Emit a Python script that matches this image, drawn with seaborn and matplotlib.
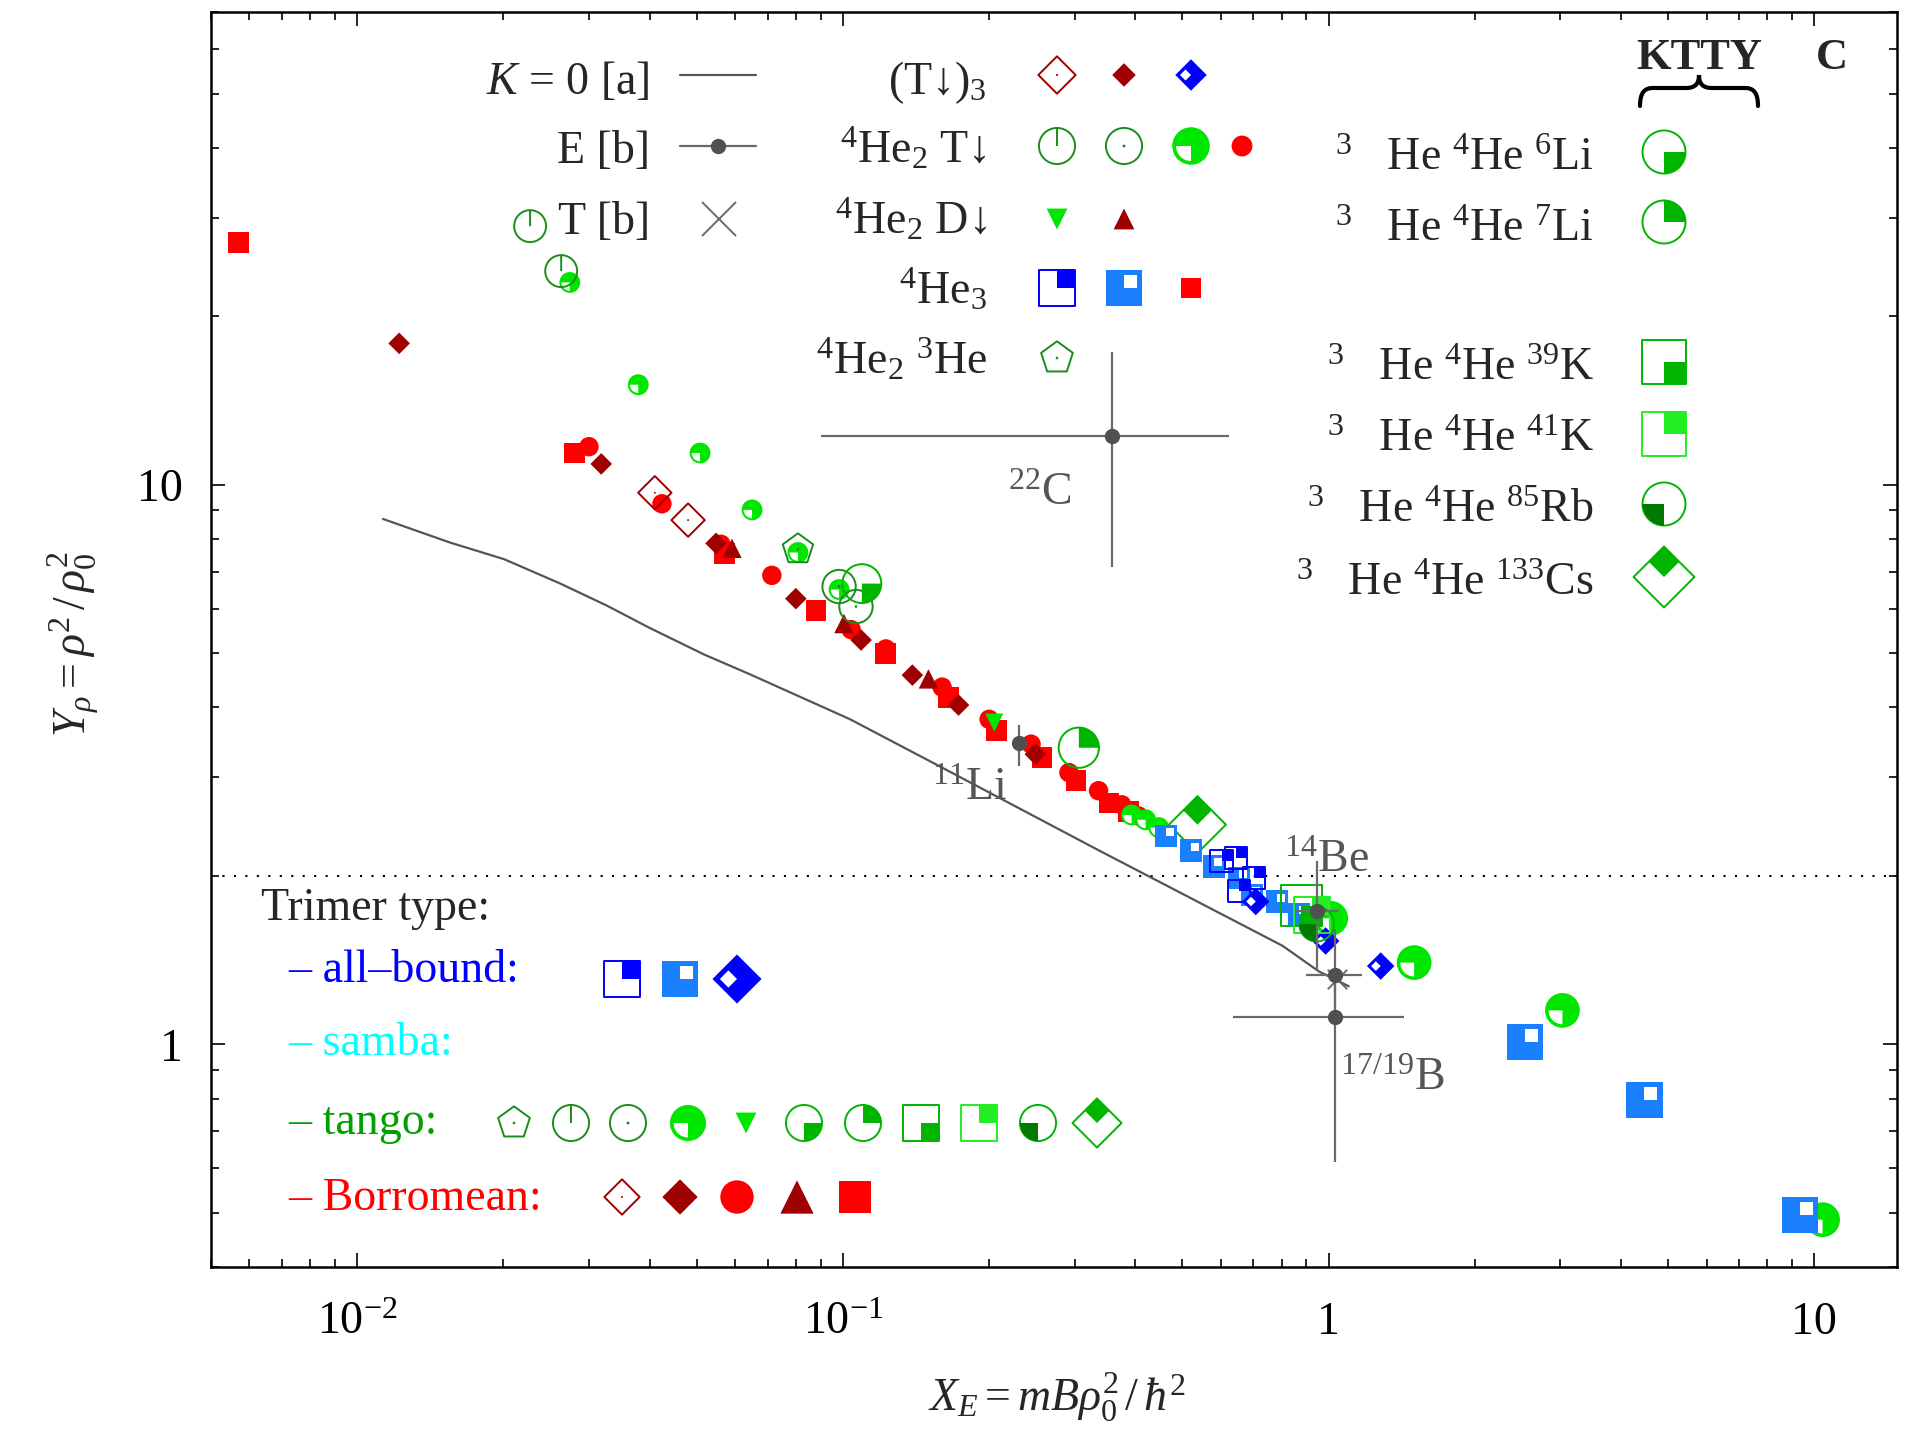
import numpy as np
import matplotlib
matplotlib.use("Agg")
import matplotlib.pyplot as plt
import seaborn as sns
from matplotlib.path import Path
from matplotlib.patches import PathPatch
from matplotlib.ticker import NullFormatter

sns.set_style("ticks")
plt.rcParams["font.family"] = ["Liberation Serif", "DejaVu Serif"]
plt.rcParams["mathtext.fontset"] = "custom"
plt.rcParams["mathtext.rm"] = "Liberation Serif"
plt.rcParams["mathtext.it"] = "Liberation Serif:italic"
plt.rcParams["mathtext.bf"] = "Liberation Serif:bold"
plt.rcParams["mathtext.fallback"] = "stix"


# DATA

# K = 0 hyperspherical curve [a]
k0_x = [0.0113, 0.0155, 0.0201, 0.0262, 0.0327, 0.040, 0.0519, 0.0642, 0.1035, 0.156,
        0.337, 0.804, 0.955, 1.10]
k0_y = [8.69, 7.89, 7.36, 6.66, 6.08, 5.55, 4.97, 4.59, 3.81, 3.16,
        2.22, 1.50, 1.35, 1.27]

# (T-down)3
trit_open_x = [0.0410, 0.0480]
trit_open_y = [9.68, 8.65]
trit_fill_x = [0.0122, 0.0318, 0.0548, 0.080, 0.109, 0.139, 0.173, 0.249]
trit_fill_y = [17.9, 10.9, 7.86, 6.26, 5.28, 4.57, 4.04, 3.30]
trit_bound_x = [0.708, 0.986, 1.28]
trit_bound_y = [1.80, 1.53, 1.38]

# 4He2 T-down
he2t_line_x = [0.0227, 0.0263]
he2t_line_y = [29.0, 24.1]
he2t_dot_x = [0.0982, 0.1064]
he2t_dot_y = [6.58, 6.06]
he2t_tango_x = [0.0274, 0.0379, 0.0508, 0.0650, 0.0808, 0.0982, 0.393, 0.420, 0.447,
                1.01, 1.50, 3.03, 10.4]
he2t_tango_y = [23.0, 15.1, 11.4, 9.02, 7.57, 6.50, 2.57, 2.52, 2.44,
                1.68, 1.40, 1.15, 0.486]
he2t_borr_x = [0.030, 0.0424, 0.0561, 0.0714, 0.104, 0.1226, 0.160, 0.200, 0.244,
               0.292, 0.336, 0.375, 0.406]
he2t_borr_y = [11.7, 9.25, 7.83, 6.89, 5.51, 5.09, 4.35, 3.81, 3.44,
               3.06, 2.84, 2.68, 2.56]

# 4He2 D-down
he2d_tango_x = [0.205]
he2d_tango_y = [3.76]
he2d_borr_x = [0.0591, 0.1005, 0.150]
he2d_borr_y = [7.70, 5.65, 4.50]

# 4He3
he3_open_x = [0.602, 0.644, 0.653, 0.701]
he3_open_y = [2.13, 2.15, 1.88, 1.98]
he3_azure_x = [0.462, 0.520, 0.580, 0.653, 0.695, 0.782, 0.868, 2.54, 4.47, 9.36]
he3_azure_y = [2.36, 2.22, 2.08, 1.98, 1.85, 1.80, 1.71, 1.01, 0.796, 0.495]
he3_borr_x = [0.00569, 0.0280, 0.057, 0.0880, 0.1226, 0.165, 0.207, 0.257, 0.302, 0.353, 0.388]
he3_borr_y = [27.1, 11.4, 7.55, 5.96, 4.99, 4.17, 3.64, 3.26, 2.96, 2.70, 2.61]

# 4He2 3He
he2he3_x = [0.0808]
he2he3_y = [7.67]

# 3He 4He X  (KTTY)
li6_x, li6_y = [0.1094], [6.66]
li7_x, li7_y = [0.306], [3.39]
k39_x, k39_y = [0.879], [1.77]
k41_x, k41_y = [0.923], [1.70]
rb85_x, rb85_y = [0.945], [1.64]
cs133_x, cs133_y = [0.537], [2.47]

# experimental halo nuclei E [b]
exp_names = ["22C", "11Li", "14Be", "17B", "19B"]
exp_x = [0.358, 0.230, 0.945, 1.03, 1.03]
exp_y = [12.25, 3.45, 1.73, 1.33, 1.12]
exp_xlo = [0.0901, 0.230, 0.855, 0.897, 0.635]
exp_xhi = [0.625, 0.230, 1.05, 1.17, 1.43]
exp_ylo = [7.12, 3.15, 1.35, 1.12, 0.616]
exp_yhi = [17.3, 3.72, 2.13, 1.61, 1.33]
tb_x, tb_y = [1.04], [1.31]


# MARKERS

DKRED = "#a00000"
RED = "#ff0000"
DKGREEN = "#1a8c1a"
GREEN = "#00b400"
LTGREEN = "#00e600"
BRGREEN = "#22ee22"
RBGREEN = "#007a00"
BLUE = "#0000ff"
AZURE = "#1a80ff"
GRAY = "#505050"
LGRAY = "#6a6a6a"

C = [Path.MOVETO, Path.LINETO, Path.LINETO, Path.LINETO, Path.CLOSEPOLY]
SQ_TR = Path([(0, 0), (1, 0), (1, 1), (0, 1), (0, 0)], C)
SQ_BR = Path([(0, 0), (1, 0), (1, -1), (0, -1), (0, 0)], C)
D_TOP = Path([(0, 0), (0.5, 0.5), (0, 1), (-0.5, 0.5), (0, 0)], C)
D_LEFT = Path([(0, 0), (-0.5, 0.5), (-1, 0), (-0.5, -0.5), (0, 0)], C)
W_TR = Path.wedge(0, 90)
W_BR = Path.wedge(270, 360)
W_BL = Path.wedge(180, 270)
CIRC_LINE = Path.make_compound_path(Path.unit_circle(), Path([(0, 0), (0, 1)]))

# layers: marker, face, edge, linewidth, size factor
STYLE = {
    "trit_open": [("D", "none", DKRED, 1.4, 1.0), ("o", DKRED, "none", 0, 0.08)],
    "trit_fill": [("D", DKRED, "none", 0, 1.0)],
    "trit_bound": [("D", BLUE, "none", 0, 1.0), (D_LEFT, "white", "none", 0, 1.414 * 0.7)],
    "he2t_line": [(CIRC_LINE, "none", DKGREEN, 1.4, 1.0)],
    "he2t_dot": [("o", "none", DKGREEN, 1.4, 1.0), ("o", DKGREEN, "none", 0, 0.08)],
    "he2t_tango": [("o", LTGREEN, "none", 0, 1.0), (W_BL, "white", "none", 0, 0.8)],
    "he2t_borr": [("o", RED, "none", 0, 1.0)],
    "he2d_tango": [("v", LTGREEN, "none", 0, 1.0)],
    "he2d_borr": [("^", DKRED, "none", 0, 1.0)],
    "he3_open": [("s", "none", BLUE, 1.4, 1.0), (SQ_TR, BLUE, "none", 0, 1.0)],
    "he3_azure": [("s", AZURE, "none", 0, 1.0), (SQ_TR, "white", "none", 0, 0.72)],
    "he3_borr": [("s", RED, "none", 0, 1.0)],
    "he2he3": [("p", "none", DKGREEN, 1.4, 1.0), ("o", DKGREEN, "none", 0, 0.08)],
    "li6": [("o", "none", GREEN, 1.4, 1.0), (W_BR, GREEN, "none", 0, 1.0)],
    "li7": [("o", "none", GREEN, 1.4, 1.0), (W_TR, GREEN, "none", 0, 1.0)],
    "k39": [("s", "none", GREEN, 1.4, 1.0), (SQ_BR, GREEN, "none", 0, 1.0)],
    "k41": [("s", "none", BRGREEN, 1.4, 1.0), (SQ_TR, BRGREEN, "none", 0, 1.0)],
    "rb85": [("o", "none", GREEN, 1.4, 1.0), (W_BL, RBGREEN, "none", 0, 1.0)],
    "cs133": [("D", "none", GREEN, 1.4, 1.0), (D_TOP, GREEN, "none", 0, 1.414)],
}


def draw(target, key, xs, ys, size, z):
    for marker, fc, ec, lw, scale in STYLE[key]:
        sns.scatterplot(x=list(xs), y=list(ys), ax=target, marker=marker,
                        s=(size * scale) ** 2, color=ec if fc == "none" else fc,
                        facecolor=fc, edgecolor=ec, linewidth=lw,
                        legend=False, zorder=z)
        z += 0.01


# FIGURE

W, H = 1905, 1440
fig = plt.figure(figsize=(W / 100, H / 100), dpi=100)
ax = fig.add_axes([211 / W, 1 - 1267 / H, 1686 / W, 1255 / H])
ax.set_xscale("log")
ax.set_yscale("log")

sns.lineplot(x=k0_x, y=k0_y, ax=ax, color="#555555", lw=1.6, sort=False,
             estimator=None, zorder=2)
ax.axhline(2.0, color="black", lw=1.5, ls=(0, (1, 4.5)), zorder=1)

# Borromean first, then tango, then all-bound
draw(ax, "he3_borr", he3_borr_x, he3_borr_y, 15, 3)
draw(ax, "he2t_borr", he2t_borr_x, he2t_borr_y, 14, 3.1)
draw(ax, "trit_fill", trit_fill_x, trit_fill_y, 11, 3.2)
draw(ax, "he2d_borr", he2d_borr_x, he2d_borr_y, 14, 3.3)
draw(ax, "trit_open", trit_open_x, trit_open_y, 17, 3.4)

tx, ty = np.array(he2t_tango_x), np.array(he2t_tango_y)
big = tx > 0.9
draw(ax, "he2t_tango", tx[~big], ty[~big], 15, 4)
draw(ax, "he2t_tango", tx[big], ty[big], 25, 4)
draw(ax, "he2d_tango", he2d_tango_x, he2d_tango_y, 13, 4.1)
draw(ax, "he2t_line", he2t_line_x, he2t_line_y, 23, 4.2)
draw(ax, "he2t_dot", he2t_dot_x, he2t_dot_y, 24, 4.3)
draw(ax, "he2he3", he2he3_x, he2he3_y, 23, 4.4)
draw(ax, "li6", li6_x, li6_y, 28, 4.5)
draw(ax, "li7", li7_x, li7_y, 29, 4.6)
draw(ax, "cs133", cs133_x, cs133_y, 29, 4.7)

ax_, ay_ = np.array(he3_azure_x), np.array(he3_azure_y)
big = ax_ > 2
draw(ax, "he3_azure", ax_[~big], ay_[~big], 16, 5)
draw(ax, "he3_azure", ax_[big], ay_[big], 26, 5)
draw(ax, "he3_open", he3_open_x, he3_open_y, 16, 5.1)
draw(ax, "trit_bound", trit_bound_x, trit_bound_y, 14, 5.2)
draw(ax, "k39", k39_x, k39_y, 29, 5.3)
draw(ax, "k41", k41_x, k41_y, 26, 5.4)
draw(ax, "rb85", rb85_x, rb85_y, 25, 5.5)

ex, ey = np.array(exp_x), np.array(exp_y)
xerr = [ex - np.array(exp_xlo), np.array(exp_xhi) - ex]
yerr = [ey - np.array(exp_ylo), np.array(exp_yhi) - ey]
ax.errorbar(ex, ey, xerr=xerr, yerr=yerr, fmt="o", ms=10, color=GRAY,
            ecolor=LGRAY, elinewidth=1.6, capsize=0, zorder=8)
ax.scatter(tb_x, tb_y, marker="x", s=14 ** 2, color=LGRAY, lw=1.4, zorder=7)

ax.set_xlim(0.005, 14.8)
ax.set_ylim(0.4, 70)
ax.set_xticks([0.01, 0.1, 1, 10], labels=[r"$10^{-2}$", r"$10^{-1}$", "1", "10"])
ax.set_yticks([1, 10], labels=["1", "10"])
ax.xaxis.set_minor_formatter(NullFormatter())
ax.yaxis.set_minor_formatter(NullFormatter())
ax.tick_params(which="both", direction="in", top=True, right=True, width=1.2,
               colors="black", labelsize=33)
ax.tick_params(which="major", length=10)
ax.tick_params(which="minor", length=6)
ax.tick_params(axis="x", pad=48)
ax.tick_params(axis="y", pad=20)
for lab in ax.get_xticklabels():
    lab.set_va("baseline")
for sp in ax.spines.values():
    sp.set_linewidth(1.8)
    sp.set_color("black")
ax.set_xlabel("")
ax.set_ylabel("")

# overlay in pixel coordinates for legend, labels and annotations
ov = fig.add_axes([0, 0, 1, 1])
ov.set_xlim(0, W)
ov.set_ylim(H, 0)
ov.axis("off")

FS = 33
ov.text(1057, 1397, r"$X_E = mB\rho_0^{2}\,/\,\hbar^{2}$", fontsize=FS, ha="center", va="center")
ov.text(73, 644, r"$Y_\rho = \rho^{2}\,/\,\rho_0^{2}$", fontsize=FS, ha="center", va="center",
        rotation=90)

# top-left legend
ov.text(650, 94, r"$K$ = 0 [a]", fontsize=FS, ha="right", va="baseline")
ov.text(650, 163, "E [b]", fontsize=FS, ha="right", va="baseline")
ov.text(650, 234, "T [b]", fontsize=FS, ha="right", va="baseline")
ov.plot([680, 756], [75, 75], color="#555555", lw=1.6)
ov.plot([680, 756], [146, 146], color=LGRAY, lw=1.6)
ov.plot([718], [146], "o", ms=10, color=GRAY)
ov.plot([719], [219], "x", ms=24, mew=1.4, color=LGRAY)

ov.text(987, 94, "(T↓)$_3$", fontsize=FS, ha="right", va="baseline")
ov.text(987, 163, "$^4$He$_2$ T↓", fontsize=FS, ha="right", va="baseline")
ov.text(987, 234, "$^4$He$_2$ D↓", fontsize=FS, ha="right", va="baseline")
ov.text(987, 304, "$^4$He$_3$", fontsize=FS, ha="right", va="baseline")
ov.text(987, 374, "$^4$He$_2$ $^3$He", fontsize=FS, ha="right", va="baseline")

draw(ov, "trit_open", [1057], [75], 19, 10)
draw(ov, "trit_fill", [1124], [75], 12, 10)
draw(ov, "trit_bound", [1191], [75], 16, 10)
draw(ov, "he2t_line", [1057], [146], 26, 10)
draw(ov, "he2t_dot", [1124], [146], 26, 10)
draw(ov, "he2t_tango", [1191], [146], 27, 10)
draw(ov, "he2t_borr", [1242], [146], 15, 10)
draw(ov, "he2d_tango", [1057], [219], 15, 10)
draw(ov, "he2d_borr", [1124], [219], 15, 10)
draw(ov, "he3_open", [1057], [288], 26, 10)
draw(ov, "he3_azure", [1124], [288], 26, 10)
draw(ov, "he3_borr", [1191], [288], 15, 10)
draw(ov, "he2he3", [1057], [358], 24, 10)

# right legend (KTTY)
ov.text(1699, 69, "KTTY", fontsize=32, fontweight="bold", ha="center", va="baseline")
ov.text(1832, 69, "C", fontsize=32, fontweight="bold", ha="center", va="baseline")
brace = Path([(1640, 106), (1640, 92), (1645, 88), (1653, 88),
              (1686, 88),
              (1695, 88), (1699, 84), (1699, 75),
              (1699, 84), (1703, 88), (1712, 88),
              (1745, 88),
              (1753, 88), (1758, 92), (1758, 106)],
             [Path.MOVETO, Path.CURVE4, Path.CURVE4, Path.CURVE4,
              Path.LINETO,
              Path.CURVE4, Path.CURVE4, Path.CURVE4,
              Path.CURVE4, Path.CURVE4, Path.CURVE4,
              Path.LINETO,
              Path.CURVE4, Path.CURVE4, Path.CURVE4])
ov.add_patch(PathPatch(brace, fill=False, lw=3, color="black", capstyle="round"))

right_rows = [
    ("$^3$   He $^4$He $^6$Li", 170, 152, "li6"),
    ("$^3$   He $^4$He $^7$Li", 241, 222, "li7"),
    ("$^3$   He $^4$He $^{39}$K", 380, 362, "k39"),
    ("$^3$   He $^4$He $^{41}$K", 451, 434, "k41"),
    ("$^3$   He $^4$He $^{85}$Rb", 522, 504, "rb85"),
    ("$^3$   He $^4$He $^{133}$Cs", 595, 577, "cs133"),
]
for label, yb, ym, key in right_rows:
    ov.text(1594, yb, label, fontsize=FS, ha="right", va="baseline")
    draw(ov, key, [1664], [ym], 31, 10)

# trimer type legend
ov.text(261, 920, "Trimer type:", fontsize=FS, ha="left", va="baseline")
ov.text(288, 982, "– all–bound:", fontsize=FS, color=BLUE, ha="left", va="baseline")
ov.text(288, 1055, "– samba:", fontsize=FS, color="#00ffff", ha="left", va="baseline")
ov.text(288, 1134, "– tango:", fontsize=FS, color="#00a000", ha="left", va="baseline")
ov.text(288, 1210, "– Borromean:", fontsize=FS, color=RED, ha="left", va="baseline")

for key, px, sz in [("he3_open", 622, 26), ("he3_azure", 680, 26), ("trit_bound", 737, 25)]:
    draw(ov, key, [px], [979], sz, 10)
tango_keys = [("he2he3", 24), ("he2t_line", 26), ("he2t_dot", 26), ("he2t_tango", 26),
              ("he2d_tango", 15), ("li6", 26), ("li7", 26), ("k39", 26), ("k41", 26),
              ("rb85", 26), ("cs133", 25)]
for (key, sz), px in zip(tango_keys, [514, 571, 628, 688, 746, 804, 863, 921, 979, 1038, 1097]):
    draw(ov, key, [px], [1123], sz, 10)
borr_keys = [("trit_open", 18), ("trit_fill", 18), ("he2t_borr", 24), ("he2d_borr", 24),
             ("he3_borr", 23)]
for (key, sz), px in zip(borr_keys, [622, 680, 737, 797, 855]):
    draw(ov, key, [px], [1197], sz, 10)

# halo nuclei labels
for txt, px, py in [("$^{22}$C", 1008, 505), ("$^{11}$Li", 932, 800),
                    ("$^{14}$Be", 1284, 872), ("$^{17/19}$B", 1340, 1090)]:
    ov.text(px, py, txt, fontsize=FS, color="#555555", ha="left", va="baseline")

ov.set_xlim(0, W)
ov.set_ylim(H, 0)

plt.savefig("out.png", dpi=100)
